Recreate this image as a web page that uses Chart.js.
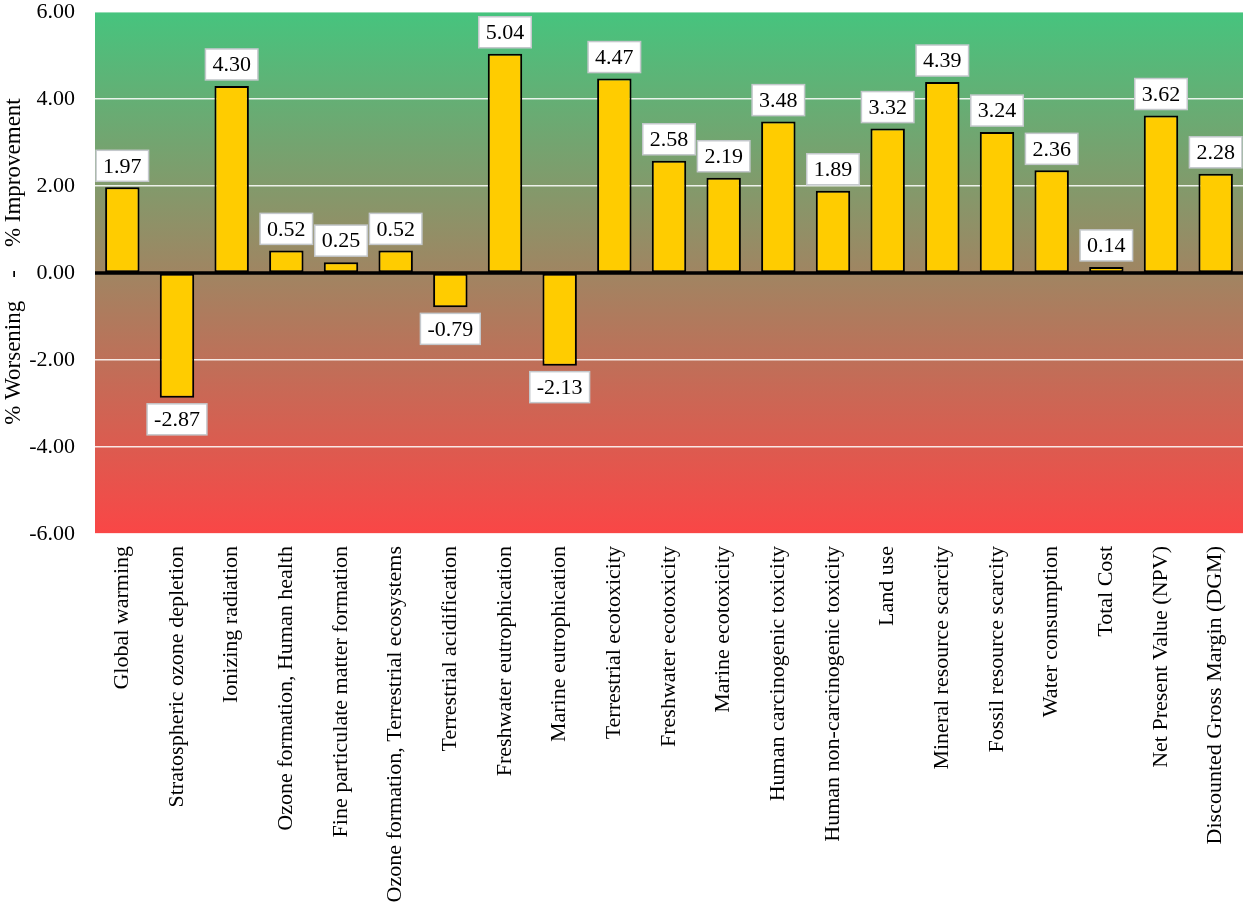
<!DOCTYPE html>
<html>
<head>
<meta charset="utf-8">
<script src="https://cdn.jsdelivr.net/npm/chart.js@4/dist/chart.umd.min.js"></script>
<style>
  html, body { margin: 0; padding: 0; background: #fff; }
  #wrap { width: 1248px; height: 912px; }
</style>
</head>
<body>
<div id="wrap"><canvas id="improvementChart"></canvas></div>
<script>
// Categorias (eixo X)
const categories = [
    'Global warming',
    'Stratospheric ozone depletion',
    'Ionizing radiation',
    'Ozone formation, Human health',
    'Fine particulate matter formation',
    'Ozone formation, Terrestrial ecosystems',
    'Terrestrial acidification',
    'Freshwater eutrophication',
    'Marine eutrophication',
    'Terrestrial ecotoxicity',
    'Freshwater ecotoxicity',
    'Marine ecotoxicity',
    'Human carcinogenic toxicity',
    'Human non-carcinogenic toxicity',
    'Land use',
    'Mineral resource scarcity',
    'Fossil resource scarcity',
    'Water consumption',
    'Total Cost',
    'Net Present Value (NPV)',
    'Discounted Gross Margin (DGM)'
];

// Valores (% melhoria / piora)
const improvement = [
    1.97, -2.87, 4.30, 0.52, 0.25, 0.52, -0.79, 5.04, -2.13, 4.47, 2.58,
    2.19, 3.48, 1.89, 3.32, 4.39, 3.24, 2.36, 0.14, 3.62, 2.28
];

// Eixo Y
const yTicks = [-6, -4, -2, 0, 2, 4, 6];
// espaços no início para o traço ficar na altura do zero
const yTitle = '    % Worsening    -    % Improvement';

const FONT = '"Liberation Serif", "Times New Roman", serif';

// Fundo em degradê (verde em cima, vermelho embaixo)
const gradientBackground = {
    id: 'gradientBackground',
    beforeDraw(chart) {
        const { ctx, chartArea: a } = chart;
        const g = ctx.createLinearGradient(0, a.top, 0, a.bottom);
        g.addColorStop(0, 'rgb(70, 196, 126)');
        g.addColorStop(1, 'rgb(250, 70, 70)');
        ctx.save();
        ctx.fillStyle = g;
        ctx.fillRect(a.left, a.top, a.right - a.left, a.bottom - a.top);
        ctx.restore();
    }
};

// Linha do zero e rótulos com caixa branca
const zeroLineAndLabels = {
    id: 'zeroLineAndLabels',
    afterDatasetsDraw(chart) {
        const { ctx, chartArea: a, scales } = chart;
        const y0 = scales.y.getPixelForValue(0);
        ctx.save();
        ctx.strokeStyle = '#000';
        ctx.lineWidth = 3.5;
        ctx.beginPath();
        ctx.moveTo(a.left, y0);
        ctx.lineTo(a.right, y0);
        ctx.stroke();

        ctx.font = '22px ' + FONT;
        ctx.textAlign = 'center';
        ctx.textBaseline = 'middle';
        const meta = chart.getDatasetMeta(0);
        meta.data.forEach((bar, i) => {
            const v = improvement[i];
            const text = v.toFixed(2);
            const w = ctx.measureText(text).width + 14;
            const h = 31;
            const gap = 6;
            const cy = v >= 0 ? bar.y - gap - h / 2 : bar.y + gap + h / 2;
            ctx.fillStyle = '#fff';
            ctx.fillRect(bar.x - w / 2, cy - h / 2, w, h);
            ctx.strokeStyle = '#c4c8cc';
            ctx.lineWidth = 1.5;
            ctx.strokeRect(bar.x - w / 2, cy - h / 2, w, h);
            ctx.fillStyle = '#000';
            ctx.fillText(text, bar.x, cy + 1);
        });
        ctx.restore();
    }
};

document.addEventListener('DOMContentLoaded', () => {
    const ctx = document.getElementById('improvementChart');

    new Chart(ctx, {
        type: 'bar',
        data: {
            labels: categories,
            datasets: [{
                data: improvement,
                backgroundColor: '#FFCC00',
                borderColor: '#000',
                borderWidth: 2,
                borderSkipped: false,
                barPercentage: 0.63,
                categoryPercentage: 1.0
            }]
        },
        options: {
            responsive: true,
            maintainAspectRatio: false,
            animation: false,
            devicePixelRatio: 1,
            layout: { padding: { top: 12, right: 5, left: 0, bottom: 0 } },
            scales: {
                x: {
                    grid: { display: false, drawTicks: false },
                    border: { display: false },
                    ticks: {
                        color: '#000',
                        font: { family: FONT, size: 22 },
                        maxRotation: 90,
                        minRotation: 90,
                        autoSkip: false,
                        padding: 12
                    },
                    afterFit(scale) {
                        scale.height = 378;
                        scale.paddingLeft = 0;
                        scale.paddingRight = 0;
                    }
                },
                y: {
                    min: -6,
                    max: 6,
                    afterBuildTicks(scale) {
                        scale.ticks = yTicks.map(v => ({ value: v }));
                    },
                    grid: {
                        color: 'rgba(255,255,255,0.85)',
                        lineWidth: 1.5,
                        drawTicks: false
                    },
                    border: { display: false },
                    ticks: {
                        color: '#000',
                        font: { family: FONT, size: 22 },
                        padding: 20,
                        callback: v => Number(v).toFixed(2)
                    },
                    title: {
                        display: true,
                        text: yTitle,
                        color: '#000',
                        font: { family: FONT, size: 23 },
                        padding: { top: 0, bottom: 0 }
                    },
                    afterFit(scale) {
                        scale.width = 95;
                        scale.paddingTop = 0;
                        scale.paddingBottom = 0;
                    }
                }
            },
            plugins: {
                legend: { display: false },
                tooltip: { enabled: false }
            }
        },
        plugins: [gradientBackground, zeroLineAndLabels]
    });
});
</script>
</body>
</html>
